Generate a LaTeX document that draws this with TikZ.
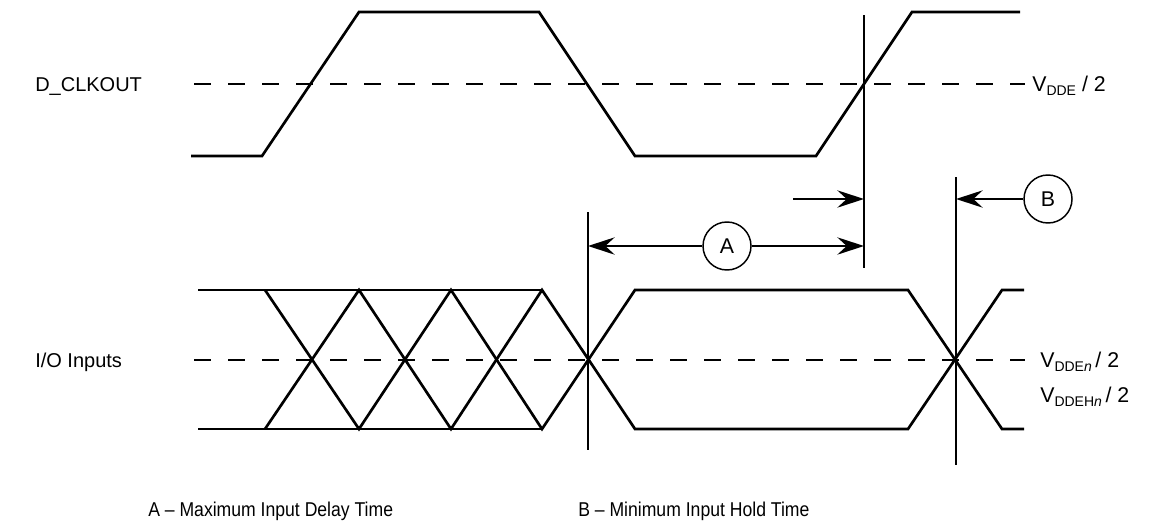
\documentclass[tikz,border=0pt]{standalone}
\usepackage{fontspec}
\setmainfont{Liberation Sans}
\newfontfamily\narrowfont[FakeStretch=0.88]{Liberation Sans}
\usetikzlibrary{arrows.meta}
\newcommand{\subtxt}[1]{\raisebox{-3.6pt}{\fontsize{10.5}{10.5}\selectfont #1}}
\begin{document}
\begin{tikzpicture}[x=0.75pt,y=-0.75pt,
  wave/.style={line width=2pt, line join=miter},
  refline/.style={line width=1.1pt},
  midline/.style={line width=1.8pt, dash pattern=on 13pt off 12.5pt},
  meas/.style={line width=1.4pt, -{Stealth[length=20pt,width=13pt,inset=7pt]}},
  tag/.style={circle, draw, line width=1.1pt, minimum size=36pt, inner sep=0pt, font=\fontsize{16}{18}\selectfont},
  lbl/.style={font=\fontsize{15}{17}\selectfont, inner sep=0pt},
  vlbl/.style={font=\fontsize{16}{18}\selectfont, inner sep=0pt},
  captxt/.style={font=\narrowfont\fontsize{15}{17}\selectfont, inner sep=0pt},
]
\useasboundingbox (0,0) rectangle (1151,525);

% ---------- D_CLKOUT ----------
\node[lbl, anchor=base west] (clk) at (35,91) {D\_CLKOUT};
\coordinate (c0) at (191,156);
\coordinate (c1) at (262,156);
\coordinate (c2) at (359,12);
\coordinate (c3) at (539,12);
\coordinate (c4) at (635,156);
\coordinate (c5) at (816,156);
\coordinate (c6) at (912,12);
\coordinate (c7) at (1020,12);
\draw[wave] (c0) -- (c1) -- (c2) -- (c3) -- (c4) -- (c5) -- (c6) -- (c7);
\coordinate (d0) at (194,84);
\coordinate (d1) at (1025,84);
\draw[midline] (d0) -- (d1);
\node[vlbl, anchor=base west] (vdde) at (1032,91) {V\subtxt{DDE} / 2};

% ---------- I/O Inputs ----------
\node[lbl, anchor=base west] (io) at (35,367) {I/O Inputs};
\coordinate (t0) at (198,290);
\coordinate (b0) at (198,429);
\foreach \n/\x in {1/265,2/359,3/451,4/542,5/635,6/908,7/1002,8/1024}{
  \coordinate (t\n) at (\x,290);
  \coordinate (b\n) at (\x,429);
}
\draw[wave] (t0) -- (t4);
\draw[wave] (b0) -- (b4);
\draw[wave] (t1) -- (b2) -- (t3) -- (b4) -- (t5) -- (t6) -- (b7) -- (b8);
\draw[wave] (b1) -- (t2) -- (b3) -- (t4) -- (b5) -- (b6) -- (t7) -- (t8);
\coordinate (m0) at (194,360);
\coordinate (m1) at (1025,360);
\draw[midline] (m0) -- (m1);
\node[vlbl, anchor=base west] (vdden) at (1040,367) {V\subtxt{DDE\itshape n}\,/ 2};
\node[vlbl, anchor=base west] (vddehn) at (1040,402) {V\subtxt{DDEH\itshape n}\,/ 2};

% ---------- reference lines ----------
\coordinate (va0) at (864,15);   \coordinate (va1) at (864,268);
\coordinate (vb0) at (588,212);  \coordinate (vb1) at (588,450);
\coordinate (vc0) at (956,177);  \coordinate (vc1) at (956,465);
\draw[refline] (va0) -- (va1);
\draw[refline] (vb0) -- (vb1);
\draw[refline] (vc0) -- (vc1);

% ---------- measurements ----------
\coordinate (s1) at (793,199);
\coordinate (e1) at (864,199);
\draw[meas] (s1) -- (e1);

\node[tag] (A) at (727,246) {A};
\coordinate (eA1) at (864,246);
\coordinate (eA2) at (588,246);
\draw[meas] (A) -- (eA1);
\draw[meas] (A) -- (eA2);

\node[tag] (B) at (1048,199) {B};
\coordinate (eB) at (956,199);
\draw[meas] (B) -- (eB);

% ---------- captions ----------
\node[captxt, anchor=base west] (capA) at (148,516) {A – Maximum Input Delay Time};
\node[captxt, anchor=base west] (capB) at (578,516) {B – Minimum Input Hold Time};
\end{tikzpicture}
\end{document}
